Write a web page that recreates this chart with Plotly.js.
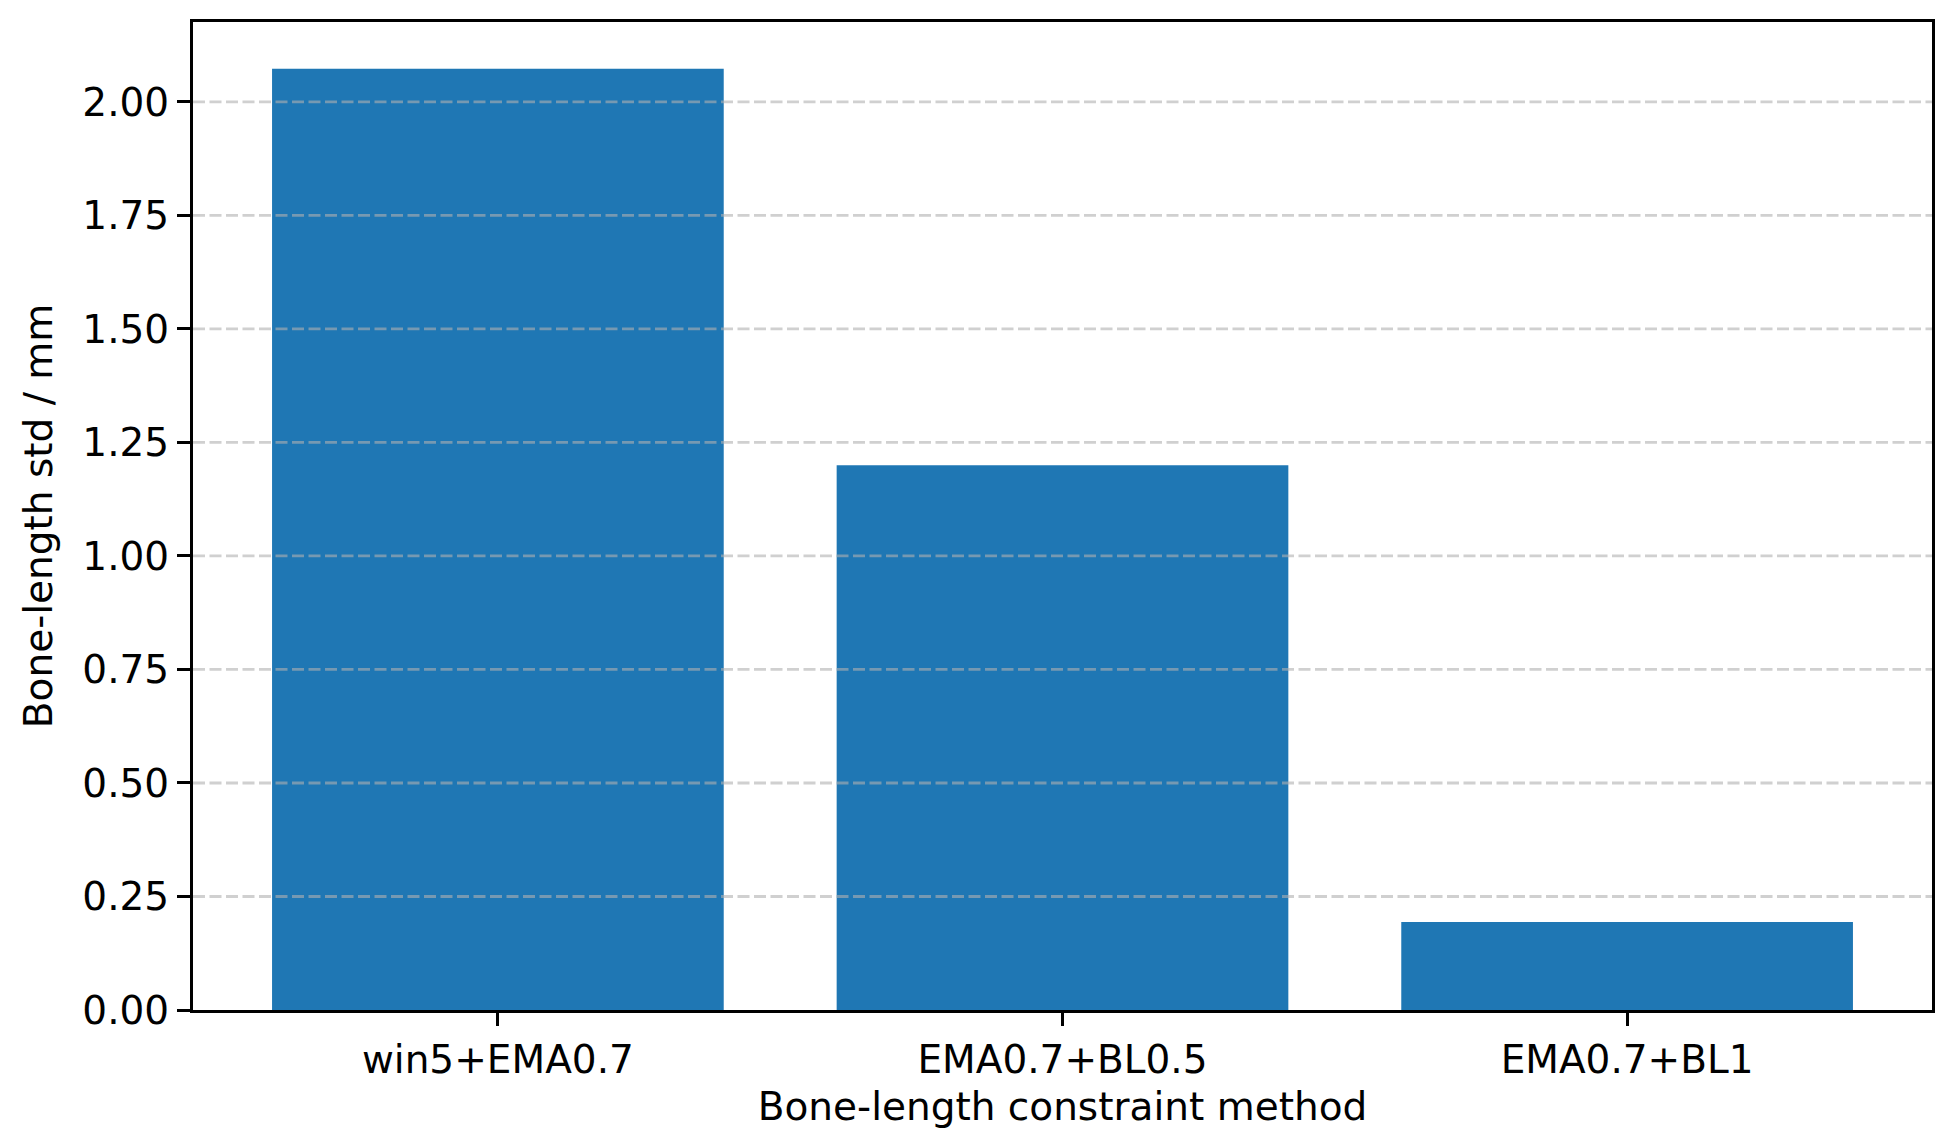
<!DOCTYPE html>
<html>
<head>
<meta charset="utf-8">
<script src="https://cdn.plot.ly/plotly-3.0.1.min.js"></script>
<style>
  html, body { margin: 0; padding: 0; background: #fff; }
  #chart { width: 1950px; height: 1141px; }
</style>
</head>
<body>
<div id="chart"></div>
<script>
const methods = ["win5+EMA0.7", "EMA0.7+BL0.5", "EMA0.7+BL1"];
const boneStd = [2.073, 1.200, 0.194];
const yTicks = [0, 0.25, 0.5, 0.75, 1.0, 1.25, 1.5, 1.75, 2.0];

const font = { family: "DejaVu Sans, sans-serif", size: 39, color: "#000" };

// grid drawn on top of the bars, like the matplotlib figure
const gridShapes = yTicks.slice(1).map(v => ({
  type: "line",
  xref: "paper", x0: 0, x1: 1,
  yref: "y", y0: v, y1: v,
  layer: "above",
  line: { color: "rgba(176,176,176,0.6)", width: 2.8, dash: "12px,4.5px" }
}));

const trace = {
  type: "bar",
  x: methods,
  y: boneStd,
  width: 0.8,
  marker: { color: "#1f77b4", line: { width: 0 } },
  hoverinfo: "x+y"
};

const layout = {
  width: 1950,
  height: 1141,
  margin: { l: 193, r: 18, t: 22, b: 131 },
  paper_bgcolor: "#fff",
  plot_bgcolor: "#fff",
  font: font,
  showlegend: false,
  bargap: 0.2,
  shapes: gridShapes,
  xaxis: {
    type: "category",
    range: [-0.54, 2.54],
    showgrid: false,
    showline: true, mirror: true, linecolor: "#000", linewidth: 3,
    ticks: "outside", ticklen: 13, tickwidth: 3, tickcolor: "#000",
    tickfont: font,
    title: { text: "Bone-length constraint method", font: font, standoff: 12 },
    automargin: false
  },
  yaxis: {
    range: [0, 2.176],
    tickvals: yTicks,
    tickformat: ".2f",
    showgrid: false,
    zeroline: false,
    showline: true, mirror: true, linecolor: "#000", linewidth: 3,
    ticks: "outside", ticklen: 13, tickwidth: 3, tickcolor: "#000",
    tickfont: font,
    title: { text: "Bone-length std / mm", font: font, standoff: 18 },
    automargin: false
  }
};

Plotly.newPlot("chart", [trace], layout, { displayModeBar: false, staticPlot: true });
</script>
</body>
</html>
